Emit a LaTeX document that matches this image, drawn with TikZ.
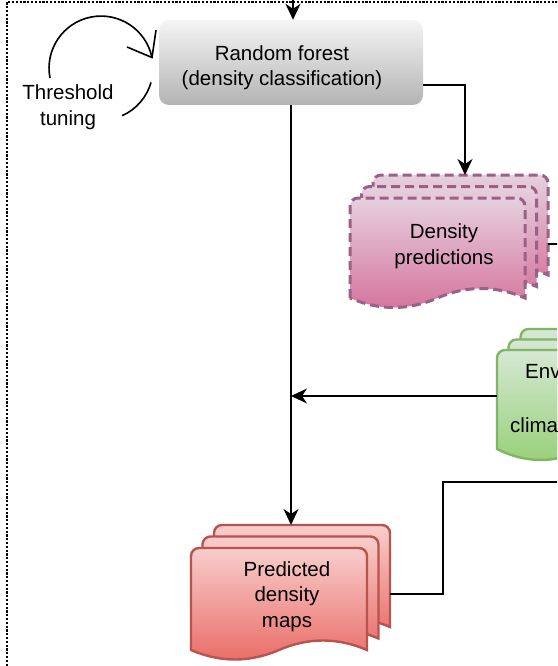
\documentclass[tikz,border=0pt]{standalone}
\usepackage{fontspec}
\setmainfont{Liberation Sans}
\usetikzlibrary{arrows.meta,calc}
\definecolor{rfTop}{HTML}{F5F5F5}
\definecolor{rfBot}{HTML}{B3B3B3}
\definecolor{pkTop}{HTML}{E6D0DE}
\definecolor{pkBot}{HTML}{D5739D}
\definecolor{pkLine}{HTML}{996185}
\definecolor{gnTop}{HTML}{D5E8D4}
\definecolor{gnBot}{HTML}{97D077}
\definecolor{gnLine}{HTML}{82B366}
\definecolor{rdTop}{HTML}{F8CECC}
\definecolor{rdBot}{HTML}{EA6B66}
\definecolor{rdLine}{HTML}{B85450}
% #1 L, #2 T, #3 R, #4 E (wave end level), #5 amplitude, #6 style
\newcommand{\docpage}[6]{%
  \path[#6] (#1,#4) -- (#1,{#2+8}) arc[start angle=180,end angle=90,radius=8pt]
    -- ({#3-8},#2) arc[start angle=90,end angle=0,radius=8pt] -- (#3,#4)
    .. controls ({#3-(#3-#1)/6},{#4-4*#5/3}) and ({(#1+#3)/2+(#3-#1)/6},{#4-4*#5/3}) .. ({(#1+#3)/2},#4)
    .. controls ({(#1+#3)/2-(#3-#1)/6},{#4+4*#5/3}) and ({#1+(#3-#1)/6},{#4+4*#5/3}) .. (#1,#4) -- cycle;}
\tikzset{
  txt/.style={font=\fontsize{20.5}{25.5}\selectfont, align=center, inner sep=0pt},
  rfbox/.style={rounded corners=10pt, minimum width=264pt, minimum height=85pt, inner sep=0pt,
    top color=rfTop, bottom color=rfBot, draw=none},
  pinkdoc/.style={top color=pkTop, bottom color=pkBot, draw=pkLine, line width=3pt, dash pattern=on 9pt off 5pt},
  greendoc/.style={top color=gnTop, bottom color=gnBot, draw=gnLine, line width=2.4pt},
  reddoc/.style={top color=rdTop, bottom color=rdBot, draw=rdLine, line width=2.4pt},
  conn/.style={line width=1.8pt, -{Stealth[length=16pt,width=15pt,inset=5pt]}},
  plainline/.style={line width=1.8pt},
  loopline/.style={line width=1.6pt},
  frame/.style={line width=2.2pt, dash pattern=on 2.2pt off 1.6pt}
}
\begin{document}
\begin{tikzpicture}[x=1pt,y=-1pt]
\useasboundingbox (0,0) rectangle (557,666);
\clip (0,0) rectangle (557,666);
% dotted frame
\draw[frame] (7,700) -- (7,2) -- (600,2);
% Random forest box
\node[rfbox] (rf) at (291,62.5) {};
\node[txt, anchor=base] (rflbl) at (282,86) {Random forest\\(density classification)};
% threshold loop
\coordinate (lpA) at (50,78);
\coordinate (lpB) at (151,82.5);
\draw[loopline] (lpA) arc[start angle=191, end angle=12, radius=52pt];
\draw[loopline] (127,47) -- (152,57.5) -- (156,30);
\draw[loopline] (lpB) arc[start angle=-16, end angle=-66, radius=52pt];
\node[txt, anchor=base] (thr) at (68,125) {Threshold\\tuning};
% Density predictions (pink, dashed)
\docpage{373}{175}{548}{275}{9.5}{pinkdoc}
\docpage{361.5}{186.5}{536.5}{286.5}{9.5}{pinkdoc}
\docpage{350}{198}{525}{298}{9.5}{pinkdoc}
\node[txt, anchor=base] (dplbl) at (444,264) {Density\\predictions};
% Environmental (green)
\docpage{520.5}{329}{695.5}{428}{11}{greendoc}
\docpage{508.5}{339.5}{683.5}{438.5}{11}{greendoc}
\docpage{497}{350}{672}{449}{11}{greendoc}
\node[font=\fontsize{20.5}{25.5}\selectfont, inner sep=0pt, anchor=base west] (envA) at (525,378) {Env};
\node[font=\fontsize{20.5}{25.5}\selectfont, inner sep=0pt, anchor=base west] (envB) at (510,432) {clima};
% Predicted density maps (red)
\docpage{214}{525}{390}{627}{9.5}{reddoc}
\docpage{202.5}{536.5}{378.5}{638.5}{9.5}{reddoc}
\docpage{191}{548}{367}{650}{9.5}{reddoc}
\node[txt, anchor=base] (pmlbl) at (287,627) {Predicted\\density\\maps};
% connectors
\coordinate (topsrc) at (293,-10);
\draw[conn] (topsrc) -- (topsrc |- rf.north);
\coordinate (dpin) at (465,175);
\draw[conn] ($(rf.east)+(0,22.5)$) -| (dpin);
\coordinate (pmin) at (291,525);
\draw[conn] (rf.south) -- (pmin);
\coordinate (envL) at (497,396);
\coordinate (join) at (291,396);
\draw[conn] (envL) -- (join);
\coordinate (pmR) at (390,594);
\coordinate (offR) at (570,482);
\draw[plainline] (pmR) -- ++(53,0) |- (offR);
\coordinate (dpR) at (548,244);
\coordinate (offR2) at (570,244);
\draw[plainline] (dpR) -- (offR2);
\end{tikzpicture}
\end{document}
